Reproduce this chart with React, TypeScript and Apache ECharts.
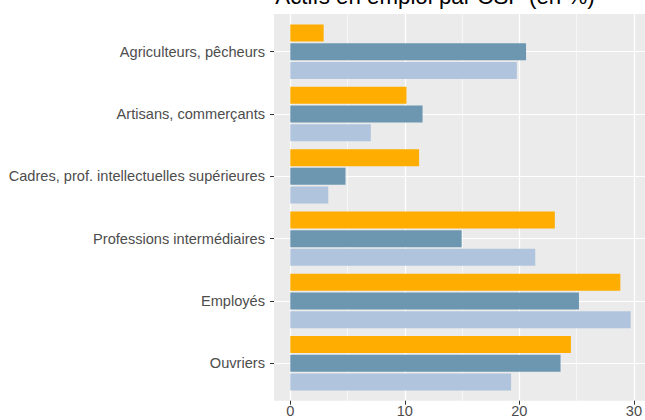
import React, { useEffect, useRef } from "react";
import * as echarts from "echarts";

const categories = [
  "Agriculteurs, pêcheurs",
  "Artisans, commerçants",
  "Cadres, prof. intellectuelles supérieures",
  "Professions intermédiaires",
  "Employés",
  "Ouvriers",
];
const serieOrange = [2.9, 10.1, 11.2, 23.0, 28.7, 24.4];
const serieAcier = [20.5, 11.5, 4.8, 14.9, 25.1, 23.5];
const serieClair = [19.7, 7.0, 3.3, 21.3, 29.6, 19.2];
const xTicks = [0, 30, 10];
const titre = "Actifs en emploi par CSP (en %)";

const FONT = "Liberation Sans, Arial, Helvetica, sans-serif";

export default function App() {
  const ref = useRef<HTMLDivElement>(null);
  useEffect(() => {
    if (!ref.current) return;
    const chart = echarts.init(ref.current, undefined, { renderer: "svg" });
    const panel = { left: 274, top: 14, width: 375, height: 386.7 };
    const xg = { left: 290.3, width: 345 };
    const yg = { top: 51.7, height: 311.6 };
    const hidden = { show: false };
    chart.setOption({
      animation: false,
      textStyle: { fontFamily: FONT },
      grid: [
        { ...panel, show: true, backgroundColor: "#EBEBEB", borderWidth: 0, z: -1 },
        { left: xg.left, width: xg.width, top: panel.top, height: panel.height },
        { left: panel.left, width: panel.width, top: yg.top, height: yg.height },
        { left: xg.left, width: xg.width, top: yg.top, height: yg.height },
      ],
      xAxis: [
        { gridIndex: 0, type: "value", ...hidden },
        {
          gridIndex: 1,
          type: "value",
          min: xTicks[0],
          max: xTicks[1],
          interval: xTicks[2],
          axisLine: { show: false },
          axisTick: { show: true, length: 4, lineStyle: { color: "#333333", width: 1 } },
          axisLabel: { color: "#4D4D4D", fontSize: 14.6, margin: 3, fontFamily: FONT },
          splitLine: { show: true, lineStyle: { color: "#FFFFFF", width: 1.2 } },
          minorTick: { show: false, splitNumber: 2 },
          minorSplitLine: { show: true, lineStyle: { color: "#FFFFFF", width: 0.6 } },
        },
        { gridIndex: 2, type: "value", ...hidden },
        { gridIndex: 3, type: "value", min: xTicks[0], max: xTicks[1], ...hidden },
      ],
      yAxis: [
        { gridIndex: 0, type: "value", ...hidden },
        { gridIndex: 1, type: "value", ...hidden },
        {
          gridIndex: 2,
          type: "category",
          data: categories,
          inverse: true,
          boundaryGap: false,
          axisLine: { show: false },
          axisTick: { show: true, length: 4, lineStyle: { color: "#333333", width: 1 } },
          axisLabel: { color: "#4D4D4D", fontSize: 14.6, margin: 9, fontFamily: FONT },
          splitLine: { show: true, lineStyle: { color: "#FFFFFF", width: 1.2 } },
        },
        {
          gridIndex: 3,
          type: "category",
          data: categories,
          inverse: true,
          boundaryGap: false,
          ...hidden,
        },
      ],
      graphic: [
        {
          type: "text",
          x: 435,
          y: -3.6,
          style: {
            text: titre,
            fill: "#000000",
            font: `22.3px ${FONT}`,
            textAlign: "center",
            textVerticalAlign: "middle",
          },
        },
      ],
      series: [
        { name: "orange", data: serieOrange, color: "#FFAD00" },
        { name: "acier", data: serieAcier, color: "#6D97B0" },
        { name: "clair", data: serieClair, color: "#B0C4DE" },
      ].map((s) => ({
        type: "bar",
        name: s.name,
        data: s.data,
        xAxisIndex: 3,
        yAxisIndex: 3,
        barWidth: 17,
        barGap: "10%",
        clip: false,
        itemStyle: { color: s.color },
      })),
    });
    return () => chart.dispose();
  }, []);
  return (
    <div
      ref={ref}
      style={{ position: "absolute", left: 0, top: 0, width: 645, height: 420 }}
    />
  );
}
